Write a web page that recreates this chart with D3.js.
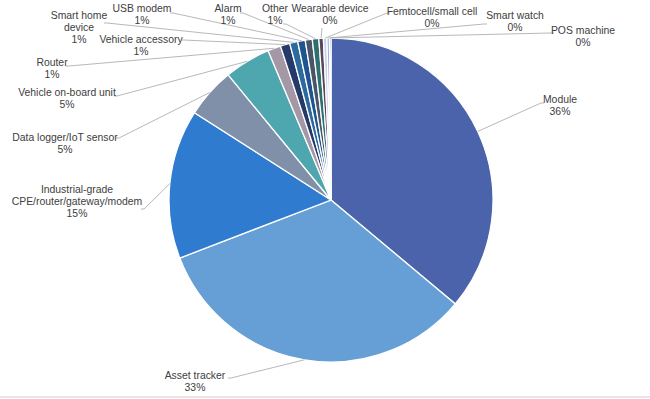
<!DOCTYPE html>
<html>
<head>
<meta charset="utf-8">
<script src="https://cdn.jsdelivr.net/npm/d3@7"></script>
<style>
  body { margin: 0; background: #fff; }
  svg { display: block; }
</style>
</head>
<body>
<div id="chart"></div>
<script>
// Device types, share of shipments (%)
const categories = [
  "Module", "Asset tracker", "Industrial-grade CPE/router/gateway/modem",
  "Data logger/IoT sensor", "Vehicle on-board unit", "Router", "Vehicle accessory",
  "Smart home device", "USB modem", "Alarm", "Other", "Wearable device",
  "Femtocell/small cell", "Smart watch", "POS machine"
]
const values = [36.1, 33.1, 14.9, 5.0, 4.6, 1.3, 0.95, 0.8, 0.75, 0.7, 0.65, 0.45, 0.35, 0.25, 0.15]

// How each label is broken over lines
const labelLines = [
  ["Module"], ["Asset tracker"], ["Industrial-grade", "CPE/router/gateway/modem"],
  ["Data logger/IoT sensor"], ["Vehicle on-board unit"], ["Router"], ["Vehicle accessory"],
  ["Smart home", "device"], ["USB modem"], ["Alarm"], ["Other"], ["Wearable device"],
  ["Femtocell/small cell"], ["Smart watch"], ["POS machine"]
]

const colors = [
  "#4a63aa", "#659fd5", "#2f7bd0", "#8090a8", "#4ea6ae", "#a497a6", "#263a6a",
  "#2b6a9d", "#1f5490", "#4a5568", "#2e7070", "#574858", "#c8d0ec", "#9aaede", "#3f5fb0"
]

// Layout: label centre x / first baseline y, and where the leader line meets the label
const labelPos = [
  [560, 103], [195, 379], [77, 193], [65, 141], [67, 96], [52, 66], [141, 43],
  [79, 18.5], [142, 12], [228, 12], [275, 12], [330, 11.5], [432, 14.5], [515, 18.5], [583, 33.5]
]
const leaderEnd = [
  [541, 103], [231, 378], [144, 209], [119, 138], [117, 96], [69, 66], [184, 40],
  [107, 23], [173, 13], [243, 13], [286, 24], [322, 28], [387, 13], [484, 24], [551, 33]
]

const width = 650
const height = 399
const cx = 331
const cy = 200
const radius = 162
const fontSize = 10.4
const lineHeight = 12

const svg = d3.select("#chart").append("svg")
  .attr("width", width)
  .attr("height", height)

const data = categories.map((c, i) => ({ name: c, value: values[i], i: i }))
const total = d3.sum(values)

const pie = d3.pie().value(d => d.value).sort(null)
const arc = d3.arc().innerRadius(0).outerRadius(radius)
const edge = d3.arc().innerRadius(radius).outerRadius(radius)

const g = svg.append("g").attr("transform", `translate(${cx},${cy})`)
const arcs = pie(data)

g.selectAll("path.slice")
  .data(arcs)
  .join("path")
  .attr("class", "slice")
  .attr("d", arc)
  .attr("fill", d => colors[d.data.i])
  .attr("stroke", "#fff")
  .attr("stroke-width", 1.3)

// Leader lines
const line = d3.line()
svg.append("g")
  .selectAll("path")
  .data(arcs)
  .join("path")
  .attr("fill", "none")
  .attr("stroke", "#a6a6a6")
  .attr("stroke-width", 0.8)
  .attr("d", d => {
    const c = edge.centroid(d)
    const p0 = [cx + c[0], cy + c[1]]
    const p1 = leaderEnd[d.data.i]
    const pts = [p0, p1]
    if (d.data.i !== 11) {
      const dir = labelPos[d.data.i][0] > p1[0] ? 1 : -1
      pts.push([p1[0] + dir * 3, p1[1]])
    }
    return line(pts)
  })

// Labels
const fmt = v => Math.round(v / total * 100) + "%"
const labels = svg.append("g")
  .attr("font-family", "Liberation Sans, Arial, sans-serif")
  .attr("font-size", fontSize)
  .attr("fill", "#404040")
  .attr("text-anchor", "middle")

arcs.forEach(d => {
  const i = d.data.i
  const lines = labelLines[i].concat([fmt(d.data.value)])
  const t = labels.append("text")
    .attr("x", labelPos[i][0])
    .attr("y", labelPos[i][1])
  lines.forEach((s, k) => {
    t.append("tspan")
      .attr("x", labelPos[i][0])
      .attr("dy", k === 0 ? 0 : lineHeight)
      .text(s)
  })
})

// light frame line at the bottom
svg.append("line")
  .attr("x1", 0).attr("x2", width)
  .attr("y1", height - 2).attr("y2", height - 2)
  .attr("stroke", "#e6e6e6")
  .attr("stroke-width", 2)
</script>
</body>
</html>
